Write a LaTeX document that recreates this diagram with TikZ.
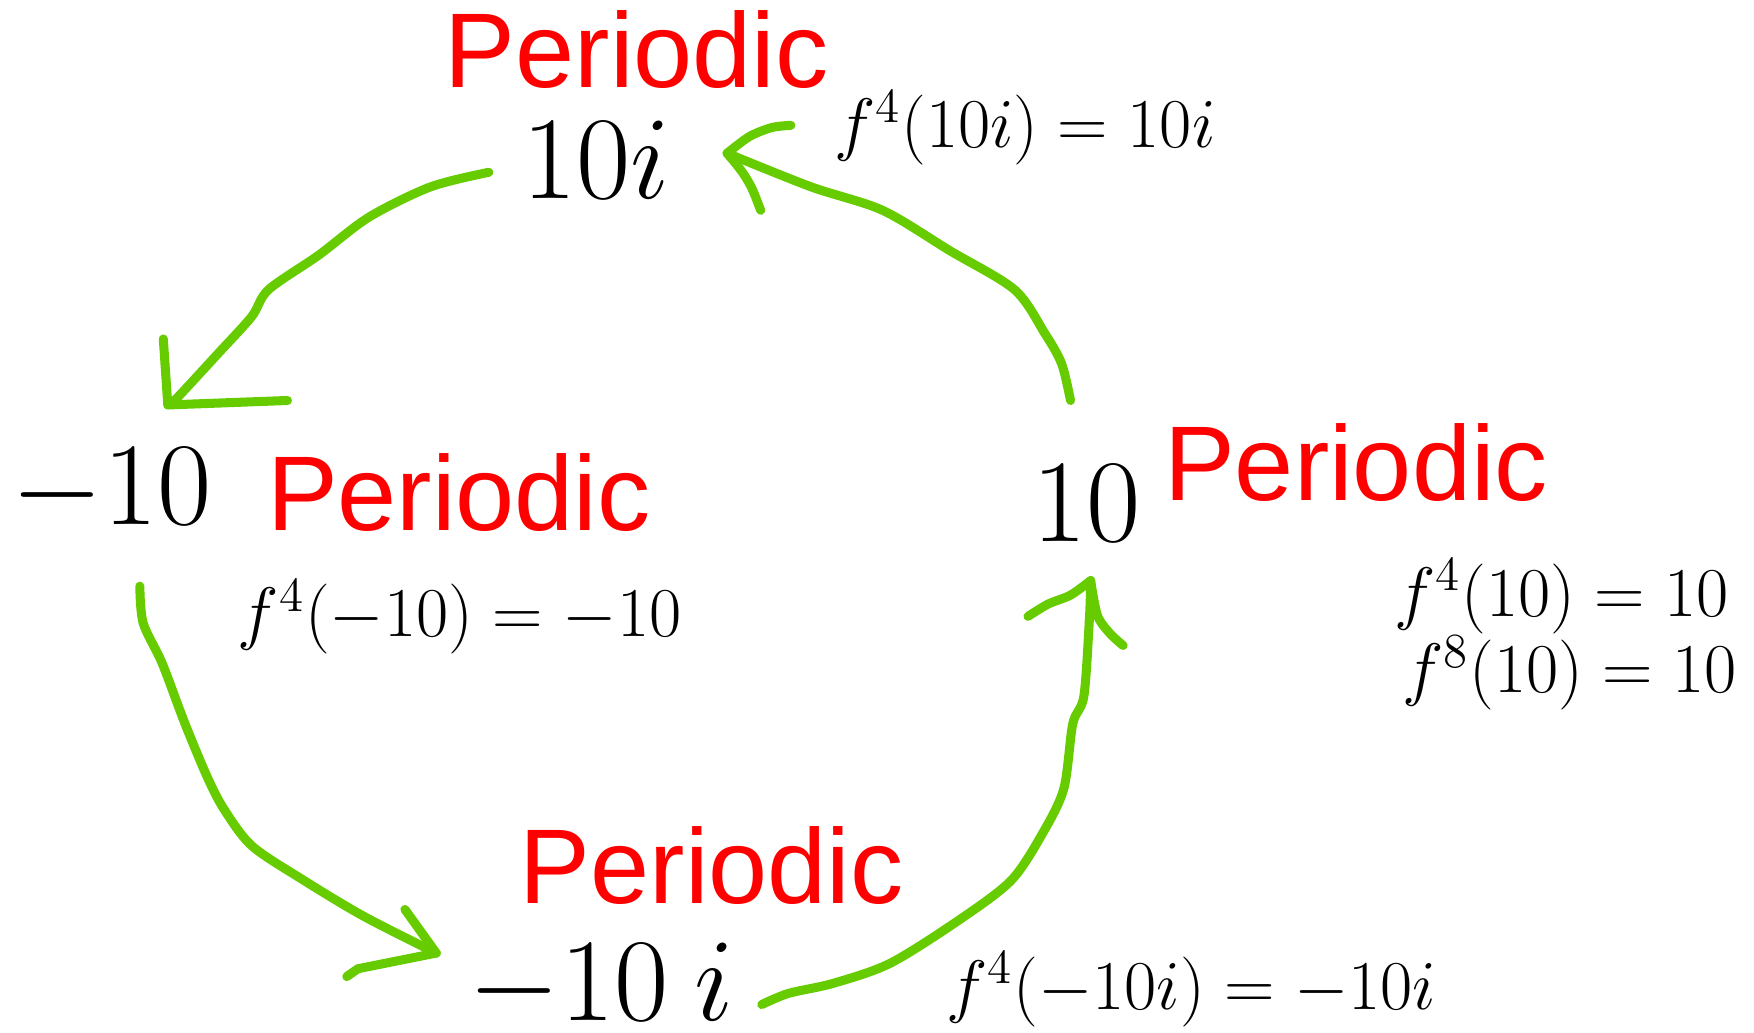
\RequirePackage{fix-cm}
\documentclass[tikz,border=0pt]{standalone}
\usepackage{fontspec}
\setmainfont{Liberation Sans}
\usepackage{amsmath}
\usepackage{xcolor}

\definecolor{pengreen}{RGB}{102,204,0}

\begin{document}
\begin{tikzpicture}[x=0.01cm, y=-0.01cm,
    per/.style={anchor=base west, inner sep=0pt, text=red, font=\fontsize{27}{32}\selectfont},
    val/.style={anchor=base west, inner sep=0pt, font=\fontsize{30}{36}\selectfont},
    eqn/.style={anchor=base west, inner sep=0pt, font=\fontsize{17.8}{21}\selectfont},
    ink/.style={draw=pengreen, line width=2.3pt, line cap=round, line join=round}]
  \useasboundingbox (0,0) rectangle (1568,923);

  % the four points of the cycle
  \node[val] (vtop) at (466,177) {$10i$};
  \node[val] (vleft) at (10,469) {$-10$};
  \node[val] (vright) at (922,484) {$10$};
  \node[val] (vbot) at (418,912) {$-10\:i$};

  \foreach \nm/\x/\y in {ptop/397/78, pleft/238/474, pright/1040/447, pbot/464/808} {
    \node[per] (\nm) at (\x,\y) {Periodic};
  }

  % iterates
  \node[eqn] (etop) at (745,132) {$f^4(10i) = 10i$};
  \node[eqn] (eleft) at (212,569) {$f^4(-10) = -10$};
  \node[eqn] (eright) at (1246,551) {$f^4(10) = 10$};
  \node[eqn] (erightb) at (1253,619) {$f^8(10) = 10$};
  \node[eqn] (ebot) at (845,902) {$f^4(-10i) = -10i$};

  % hand drawn arrows
  \coordinate (aS) at (437,154);
  \coordinate (aT) at (150,362);
  \coordinate (bS) at (125,524);
  \coordinate (bT) at (390,852);
  \coordinate (cS) at (681,898);
  \coordinate (cT) at (975,519);
  \coordinate (dS) at (957,358);
  \coordinate (dT) at (650,137);

  \draw[ink] plot[smooth, tension=0.5] coordinates {(aS) (385,167) (330,194) (285,228) (240,259) (225,283) (195,316) (158,356) (aT)};
  \draw[ink] (146,303) -- (aT) -- (257,358);

  \draw[ink] plot[smooth, tension=0.5] coordinates {(bS) (128,557) (145,593) (165,646) (185,694) (200,723) (225,756) (270,786) (325,819) (bT)};
  \draw[ink] (362,813) -- (bT) -- (320,866) -- (310,873);

  \draw[ink] plot[smooth, tension=0.5] coordinates {(cS) (705,888) (745,879) (796,861) (858,822) (904,787) (932,745) (951,705) (959,647) (969,622) (974,551) (cT)};
  \draw[ink] plot[smooth, tension=0.5] coordinates {(919,551) (937,540) (957,532) (cT)};
  \draw[ink] plot[smooth, tension=0.5] coordinates {(cT) (981,550) (992,566) (1004,577)};

  \draw[ink] plot[smooth, tension=0.5] coordinates {(dS) (949,325) (934,298) (907,259) (849,224) (789,188) (725,167) (dT)};
  \draw[ink] plot[smooth, tension=0.5] coordinates {(dT) (670,122) (690,114) (707,112)};
  \draw[ink] plot[smooth, tension=0.5] coordinates {(dT) (663,153) (672,168) (680,188)};
\end{tikzpicture}
\end{document}
